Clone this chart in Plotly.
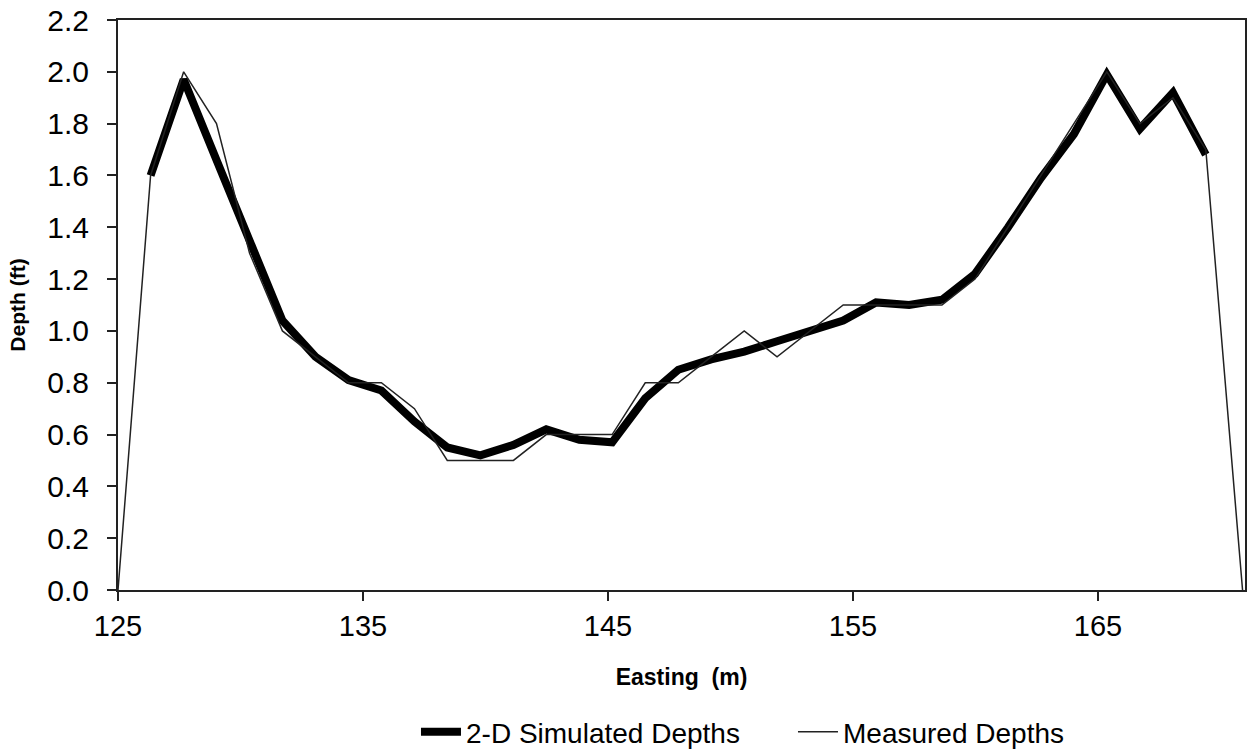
import plotly.graph_objects as go

# Easting positions (m) of the cross-section stations
easting = [126.33, 127.68, 129.02, 130.37, 131.71, 133.06, 134.41, 135.75,
           137.10, 138.44, 139.79, 141.14, 142.48, 143.83, 145.17, 146.52,
           147.87, 149.21, 150.56, 151.90, 153.25, 154.60, 155.94, 157.29,
           158.63, 159.98, 161.33, 162.67, 164.02, 165.36, 166.71, 168.06,
           169.40]

# Simulated depths (ft) at each station
simulated_depth = [1.60, 1.97, 1.66, 1.35, 1.04, 0.90, 0.81, 0.77, 0.65,
                   0.55, 0.52, 0.56, 0.62, 0.58, 0.57, 0.74, 0.85, 0.89,
                   0.92, 0.96, 1.00, 1.04, 1.11, 1.10, 1.12, 1.22, 1.40,
                   1.59, 1.76, 1.99, 1.78, 1.92, 1.68]

# Measured depths include the dry banks at both ends
measured_easting = [125.0] + easting + [170.9]
measured_depth = [0.0, 1.6, 2.0, 1.8, 1.3, 1.0, 0.9, 0.8, 0.8, 0.7, 0.5,
                  0.5, 0.5, 0.6, 0.6, 0.6, 0.8, 0.8, 0.9, 1.0, 0.9, 1.0,
                  1.1, 1.1, 1.1, 1.1, 1.2, 1.4, 1.6, 1.8, 2.0, 1.8, 1.9,
                  1.7, 0.0]

x_ticks = [125, 135, 145, 155, 165]
y_ticks = [0.0, 0.2, 0.4, 0.6, 0.8, 1.0, 1.2, 1.4, 1.6, 1.8, 2.0, 2.2]
y_tick_text = [f"{v:.1f}" for v in y_ticks]

FONT = "Liberation Sans, Arial, sans-serif"

fig = go.Figure()
fig.add_trace(go.Scatter(
    x=easting, y=simulated_depth, mode="lines",
    name="2-D Simulated Depths",
    line=dict(color="black", width=8),
))
fig.add_trace(go.Scatter(
    x=measured_easting, y=measured_depth, mode="lines",
    name="Measured Depths",
    line=dict(color="#222222", width=1.5),
))

axis_line = dict(showline=True, linecolor="#222222", linewidth=2,
                 mirror=True, showgrid=False, zeroline=False,
                 automargin=False)

fig.update_layout(
    width=1252, height=751,
    margin=dict(l=118, r=7, t=20, b=161, autoexpand=False),
    paper_bgcolor="white", plot_bgcolor="white",
    font=dict(family=FONT, color="black"),
    showlegend=True,
    legend=dict(orientation="h", x=0.2644, xanchor="left",
                y=-0.249, yanchor="middle",
                font=dict(size=28, family=FONT),
                itemwidth=40, entrywidth=322),
    xaxis=dict(range=[125, 171], tickvals=x_ticks,
               ticks="outside", ticklen=9, tickwidth=2, tickcolor="#222222",
               tickfont=dict(size=29), ticklabelstandoff=0,
               title=dict(text="<b>Easting  (m)</b>", font=dict(size=23),
                          standoff=28),
               **axis_line),
    yaxis=dict(range=[0, 2.2], tickvals=y_ticks, ticktext=y_tick_text,
               ticks="outside", ticklen=9, tickwidth=2, tickcolor="#222222",
               tickfont=dict(size=30), ticklabelstandoff=12,
               title=dict(text="<b>Depth (ft)</b>", font=dict(size=21),
                          standoff=16),
               **axis_line),
    # companion axes give the tick marks their inner half so they cross the axis line
    xaxis2=dict(overlaying="x", matches="x", side="bottom", range=[125, 171],
                tickvals=x_ticks, ticks="inside", ticklen=9, tickwidth=2,
                tickcolor="#222222", showticklabels=False, showgrid=False,
                zeroline=False, showline=False),
    yaxis2=dict(overlaying="y", matches="y", side="left", range=[0, 2.2],
                tickvals=y_ticks, ticks="inside", ticklen=9, tickwidth=2,
                tickcolor="#222222", showticklabels=False, showgrid=False,
                zeroline=False, showline=False),
)

fig.write_html("out.html")
